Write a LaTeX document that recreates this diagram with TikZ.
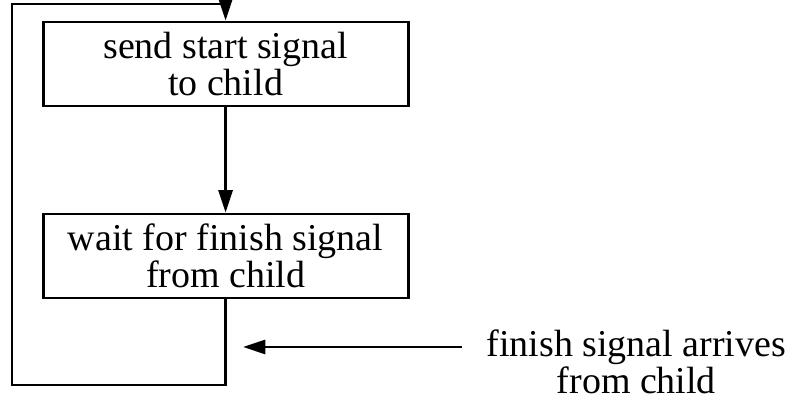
\documentclass[tikz,border=0pt]{standalone}
\usepackage{fontspec}
\setmainfont{Liberation Serif}
\usetikzlibrary{arrows.meta}

\tikzset{
  stepbox/.style={draw, line width=2pt, minimum width=9.125cm, minimum height=2.1cm, align=center, inner sep=0pt},
  flow/.style={line width=2pt, -{Triangle[length=16pt,width=10pt]}},
}

\begin{document}
\begin{tikzpicture}[font=\fontsize{27}{26.5}\selectfont]
\useasboundingbox (0,0) rectangle (19.85,10);
\node[stepbox] (send) at (5.64,8.4) {send start signal\\to child};
\node[stepbox] (wait) at (5.64,3.6) {wait for finish signal\\from child};
\node[align=center, inner sep=0pt] (arrives) at (15.91,0.95) {finish signal arrives\\from child};
% loop back from the wait box to the top
\coordinate (bl) at (0.3,0.375);
\coordinate (tl) at (0.3,9.9);
\draw[flow] (send) -- (wait);
\draw[flow, line join=miter] (wait.south) |- (bl) -- (tl) -| (send.north);
% incoming signal
\coordinate (sig) at (11.55,1.325);
\coordinate (hit) at (6.075,1.325);
\draw[flow] (sig) -- (hit);
\end{tikzpicture}
\end{document}
